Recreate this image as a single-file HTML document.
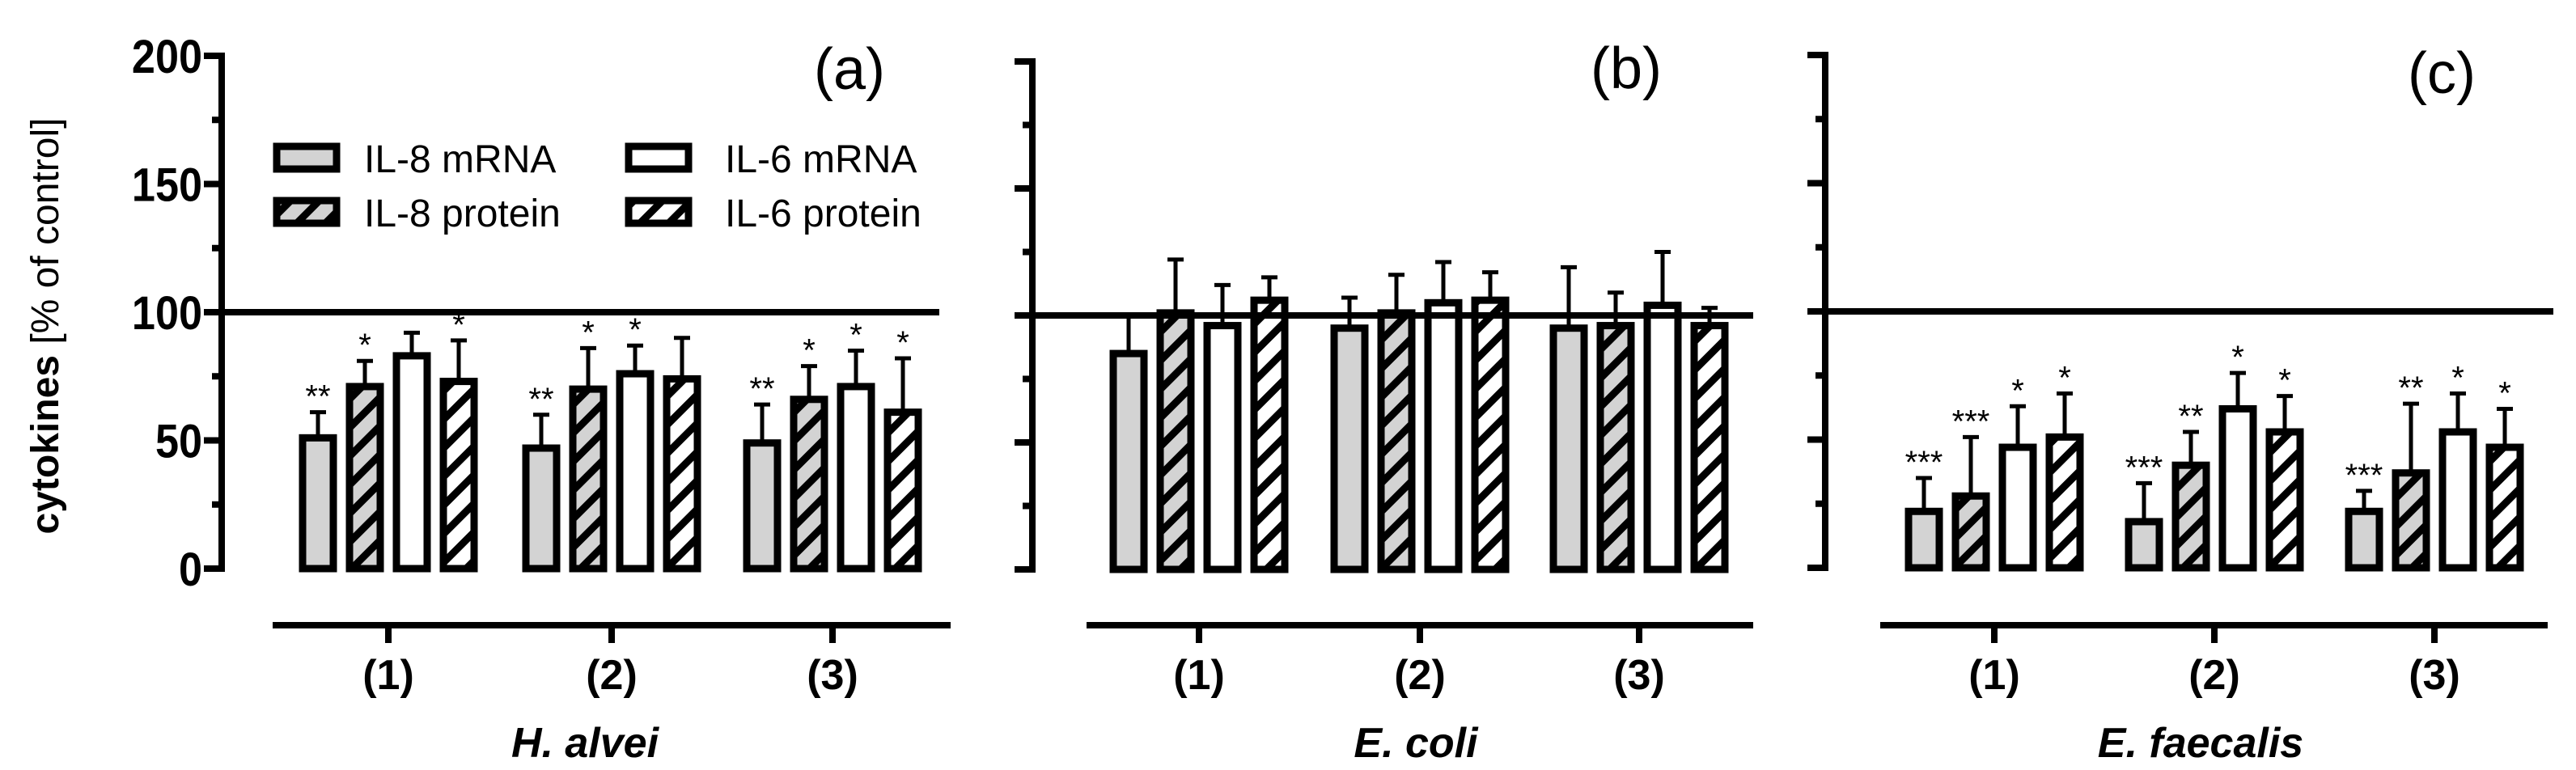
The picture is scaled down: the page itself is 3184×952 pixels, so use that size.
<!DOCTYPE html>
<html><head><meta charset="utf-8">
<style>
html,body{margin:0;padding:0;background:#fff;}
svg{display:block;font-family:"Liberation Sans",Arial,sans-serif;}
</style></head>
<body>
<svg id="chart" width="3184" height="952" viewBox="0 0 3184 952" xmlns="http://www.w3.org/2000/svg">
<defs>
<pattern id="hatchGray" patternUnits="userSpaceOnUse" width="25" height="25" patternTransform="rotate(45)">
<rect width="25" height="25" fill="#d3d3d3"/><rect x="0" y="0" width="9" height="25" fill="#000"/>
</pattern>
<pattern id="hatchWhite" patternUnits="userSpaceOnUse" width="25" height="25" patternTransform="rotate(45)">
<rect width="25" height="25" fill="#fff"/><rect x="0" y="0" width="9" height="25" fill="#000"/>
</pattern>
</defs>
<text transform="translate(72,403) rotate(-90)" text-anchor="middle" font-size="48"><tspan font-weight="bold">cytokines</tspan> [% of control]</text>
<g id="legend">
<g><rect x="342" y="181" width="74" height="28" fill="#d3d3d3" stroke="#000" stroke-width="9"/><text x="450" y="213" font-size="48">IL-8 mRNA</text></g>
<g><rect x="342" y="248" width="74" height="28" fill="url(#hatchGray)" stroke="#000" stroke-width="9"/><text x="450" y="280" font-size="48">IL-8 protein</text></g>
<g><rect x="777" y="181" width="74" height="28" fill="#fff" stroke="#000" stroke-width="9"/><text x="896" y="213" font-size="48">IL-6 mRNA</text></g>
<g><rect x="777" y="248" width="74" height="28" fill="url(#hatchWhite)" stroke="#000" stroke-width="9"/><text x="896" y="280" font-size="48">IL-6 protein</text></g>
</g>
</svg>
<script>
const categories = ["(1)", "(2)", "(3)"];
const seriesNames = ["IL-8 mRNA", "IL-8 protein", "IL-6 mRNA", "IL-6 protein"];
const yTickLabels = ["0", "50", "100", "150", "200"];
const panelTitles = ["(a)", "(b)", "(c)"];
const speciesNames = ["H. alvei", "E. coli", "E. faecalis"];
const valuesA = [[51, 71, 83, 73], [47, 70, 76, 74], [49, 66, 71, 61]];
const errorsA = [[61, 81, 92, 89], [60, 86, 87, 90], [64, 79, 85, 82]];
const starsA = [["**", "*", "", "*"], ["**", "*", "*", ""], ["**", "*", "*", "*"]];
const valuesB = [[85, 101, 96, 106], [95, 101, 105, 106], [95, 96, 104, 96]];
const errorsB = [[100, 122, 112, 115], [107, 116, 121, 117], [119, 109, 125, 103]];
const starsB = [["", "", "", ""], ["", "", "", ""], ["", "", "", ""]];
const valuesC = [[22, 28, 47, 51], [18, 40, 62, 53], [22, 37, 53, 47]];
const errorsC = [[35, 51, 63, 68], [33, 53, 76, 67], [30, 64, 68, 62]];
const starsC = [["***", "***", "*", "*"], ["***", "**", "*", "*"], ["***", "**", "*", "*"]];

const svg = document.getElementById('chart');
const NS = 'http://www.w3.org/2000/svg';
function mk(tag, attrs, parent) {
  const e = document.createElementNS(NS, tag);
  for (const k in attrs) e.setAttribute(k, attrs[k]);
  (parent || svg).appendChild(e);
  return e;
}
const fills = ["#d3d3d3", "url(#hatchGray)", "#fff", "url(#hatchWhite)"];
const panels = [
  {vals: valuesA, errs: errorsA, stars: starsA, ax: 274, top: 69, bot: 703, centers: [480, 756, 1029], xl: 337, xr: 1175, lineEnd: 1161, labels: true, titleX: 1050, titleY: 110, specX: 723},
  {vals: valuesB, errs: errorsB, stars: starsB, ax: 1276, top: 76, bot: 704, centers: [1482, 1755, 2026], xl: 1343, xr: 2167, lineEnd: 2167, labels: false, titleX: 2010, titleY: 109, specX: 1750},
  {vals: valuesC, errs: errorsC, stars: starsC, ax: 2256, top: 68, bot: 702, centers: [2465, 2737, 3009], xl: 2324, xr: 3149, lineEnd: 3156, labels: false, titleX: 3018, titleY: 115, specX: 2720}
];
const offsets = [-87, -29, 29, 87];
panels.forEach((p, pi) => {
  const g = mk('g', {});
  
  
  const y = v => p.bot - (p.bot - p.top) * v / 200;
  const axis = mk('line', {x1: p.ax, x2: p.ax, y1: p.top - 4, y2: p.bot + 4, stroke: '#000', 'stroke-width': 8}, g);
  
  
  for (let t = 0; t <= 200; t += 25) {
    const major = t % 50 === 0;
    const tk = mk('line', {x1: p.ax - (major ? 22 : 12), x2: p.ax, y1: y(t), y2: y(t), stroke: '#000', 'stroke-width': 8}, g);
    
    
    if (major && p.labels) {
      const lb = mk('text', {x: 250, y: y(t) + 21, 'text-anchor': 'end', 'font-size': 58, 'font-weight': 'bold', transform: 'translate(' + (250 * 0.1) + ',0) scale(0.9,1)'}, g);
      lb.textContent = yTickLabels[t / 50];
      
      
    }
  }
  p.centers.forEach((cx, ci) => {
    offsets.forEach((off, si) => {
      const v = p.vals[ci][si], e = p.errs[ci][si];
      const bx = cx + off;
      const er = mk('line', {x1: bx, x2: bx, y1: y(v), y2: y(e), stroke: '#000', 'stroke-width': 5}, g);
      
      
      const cap = mk('line', {x1: bx - 10, x2: bx + 10, y1: y(e), y2: y(e), stroke: '#000', 'stroke-width': 5}, g);
      
      
      const r = mk('rect', {x: bx - 19, y: y(v), width: 38, height: y(0) - y(v), fill: fills[si], stroke: '#000', 'stroke-width': 9}, g);
      
      
      const s = p.stars[ci][si];
      if (s) {
        const st = mk('text', {x: bx, y: y(e) - 6, 'text-anchor': 'middle', 'font-size': 40}, g);
        st.textContent = s;
        
        
      }
    });
    const ct = mk('line', {x1: cx, x2: cx, y1: 773, y2: 795, stroke: '#000', 'stroke-width': 8}, g);
    
    
    const cl = mk('text', {x: cx, y: 852, 'text-anchor': 'middle', 'font-size': 52, 'font-weight': 'bold'}, g);
    cl.textContent = categories[ci];
    
    
  });
  const ref = mk('line', {x1: p.ax - 4, x2: p.lineEnd, y1: y(100), y2: y(100), stroke: '#000', 'stroke-width': 8}, g);
  
  
  const xa = mk('line', {x1: p.xl, x2: p.xr, y1: 773, y2: 773, stroke: '#000', 'stroke-width': 8}, g);
  
  
  const ti = mk('text', {x: p.titleX, y: p.titleY, 'text-anchor': 'middle', 'font-size': 72}, g);
  ti.textContent = panelTitles[pi];
  
  
  const sp = mk('text', {x: p.specX, y: 936, 'text-anchor': 'middle', 'font-size': 52, 'font-weight': 'bold', 'font-style': 'italic'}, g);
  sp.textContent = speciesNames[pi];
  
  
});
</script>
</body></html>
